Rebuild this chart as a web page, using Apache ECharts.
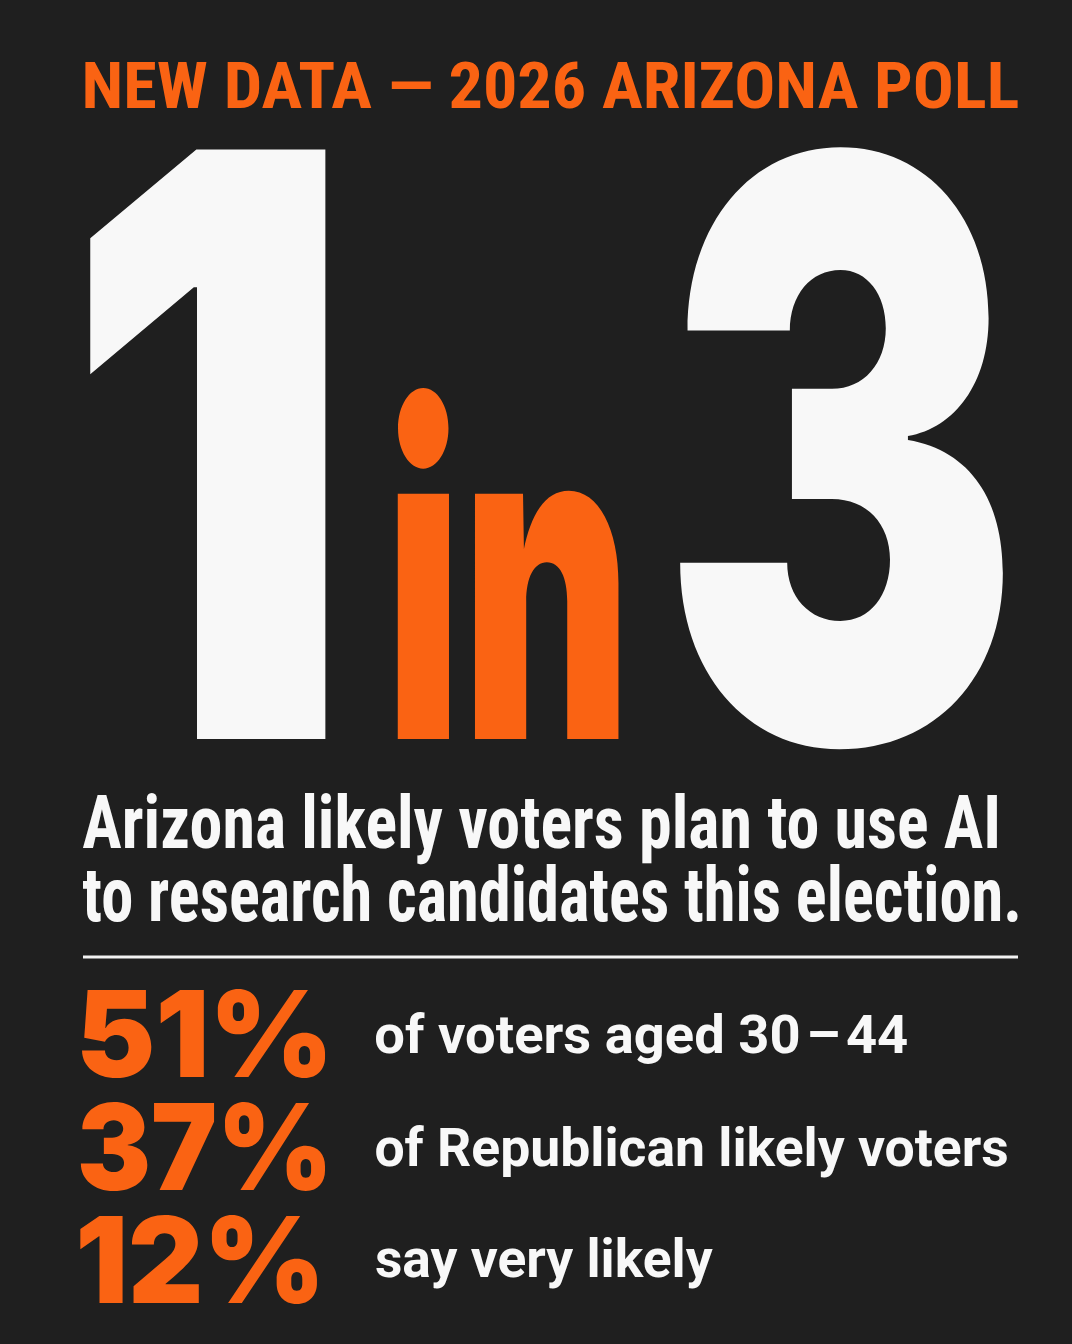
<!DOCTYPE html>
<html lang="en">

<head>
    <meta charset="UTF-8">
    <title>1 in 3 Arizona voters</title>
    <style>
        html, body { margin: 0; padding: 0; background: #1f1f1f; }
    </style>
</head>

<body>
    <div id="main" style="width:1072px; height:1344px;"></div>
    <script src="https://cdn.jsdelivr.net/npm/echarts@6/dist/echarts.min.js"></script>
    <script>
        // data
        var titleText = 'NEW DATA \u2014 2026 ARIZONA POLL';
        var ratio = [1, 3];
        var ratioWord = 'in';
        var subtitleLines = ['Arizona likely voters plan to use AI', 'to research candidates this election.'];
        var statValues = [51, 37, 12];
        var statLabels = ['of voters aged 30\u200a\u2013\u200a44', 'of Republican likely voters', 'say very likely'];

        var ORANGE = '#fa6313';
        var WHITE = '#f8f8f8';
        var condensed = "'Roboto Condensed', 'Liberation Sans Narrow', 'DejaVu Sans Condensed', Roboto, sans-serif";
        var fontTitle = 'bold 100px ' + condensed;
        var fontHuge = '900 400px Inter, Roboto, sans-serif';
        var fontStat = '900 100px Inter, Roboto, sans-serif';
        var fontLabel = 'bold 100px Roboto, Inter, sans-serif';

        var ctx = document.createElement('canvas').getContext('2d');

        // put a text so that its ink spans l..r and (ref glyph) top..bottom
        function fitText(text, font, fill, l, r, top, bottom, ref) {
            ctx.font = font;
            ctx.textAlign = 'left';
            ctx.textBaseline = 'middle';
            var m = ctx.measureText(text);
            var v = ctx.measureText(ref || text);
            var inkL = -m.actualBoundingBoxLeft, inkR = m.actualBoundingBoxRight;
            var inkT = -v.actualBoundingBoxAscent, inkB = v.actualBoundingBoxDescent;
            var sx = (r - l) / (inkR - inkL);
            var sy = (bottom - top) / (inkB - inkT);
            return {
                type: 'text',
                x: l - sx * inkL,
                y: top - sy * inkT,
                scaleX: sx,
                scaleY: sy,
                silent: true,
                style: {
                    text: text, font: font, fill: fill,
                    textAlign: 'left', textVerticalAlign: 'middle',
                    align: 'left', verticalAlign: 'middle'
                }
            };
        }

        var els = [];
        els.push(fitText(titleText, fontTitle, ORANGE, 85, 1018, 61, 108, 'H'));

        // big "1 in 3"
        els.push(fitText(String(ratio[0]), fontHuge, WHITE, 82, 326, 144, 739));
        els.push(fitText(ratioWord, fontHuge, ORANGE, 397, 621, 388, 739));
        els.push(fitText(String(ratio[1]), fontHuge, WHITE, 677, 1006, 137, 754));

        // subtitle
        var subBox = [[83, 997, 794, 848], [83, 1018, 866, 921]];
        subtitleLines.forEach(function (s, i) {
            var b = subBox[i];
            els.push(fitText(s, fontTitle, WHITE, b[0], b[1], b[2], b[3], 'H'));
        });

        // rule
        els.push({
            type: 'line', silent: true,
            shape: { x1: 83, y1: 957, x2: 1018, y2: 957 },
            style: { stroke: '#f2f2f2', lineWidth: 3 }
        });

        // stats
        var statBox = [[82, 326, 990, 1077], [80, 326, 1103, 1190], [80, 318, 1216, 1303]];
        var labelBox = [[376, 907, 1015, 1053], [376, 1007, 1128, 1166], [376, 713, 1239, 1277]];
        statValues.forEach(function (v, i) {
            var b = statBox[i];
            els.push(fitText(v + '%', fontStat, ORANGE, b[0], b[1], b[2], b[3], '1'));
            var lb = labelBox[i];
            els.push(fitText(statLabels[i], fontLabel, WHITE, lb[0], lb[1], lb[2], lb[3], 'H'));
        });

        var myChart = echarts.init(document.getElementById('main'));
        myChart.setOption({
            backgroundColor: '#1f1f1f',
            animation: false,
            graphic: { elements: els }
        });
    </script>
</body>

</html>
